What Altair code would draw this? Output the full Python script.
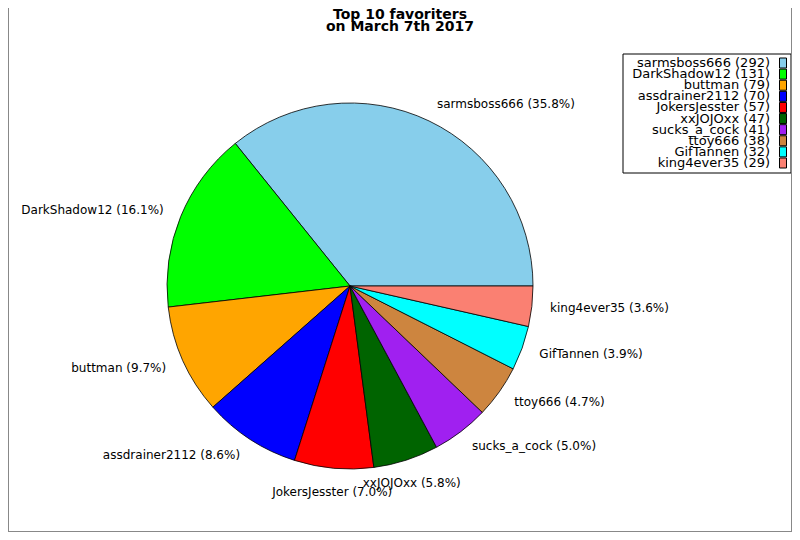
import math
import pandas as pd
import altair as alt

names = ["sarmsboss666", "DarkShadow12", "buttman", "assdrainer2112", "JokersJesster",
         "xxJOJOxx", "sucks_a_cock", "ttoy666", "GifTannen", "king4ever35"]
counts = [292, 131, 79, 70, 57, 47, 41, 38, 32, 29]
colors = ["#87ceeb", "#00ff00", "#ffa500", "#0000ff", "#ff0000",
          "#006400", "#a020f0", "#cd853f", "#00ffff", "#fa8072"]
title_lines = ["Top 10 favoriters", "on March 7th 2017"]

df = pd.DataFrame({"name": names, "count": counts, "rank": list(range(len(names)))})
one = pd.DataFrame({"k": [0]})

# pie centre and radius in plot coordinates (page has an 8px margin)
CX, CY, R = 342, 278, 183
W, H = 784, 524
FONT = "DejaVu Sans"

base = (
    alt.Chart(df)
    .transform_joinaggregate(total="sum(count)")
    .transform_window(cum="sum(count)", sort=[alt.SortField("rank")], frame=[None, 0])
    .transform_calculate(
        pct="format(datum.count / datum.total * 100, '.1f')",
        mid="(datum.cum - datum.count / 2) / datum.total",
    )
    .transform_calculate(
        side="abs(cos(2 * PI * datum.mid)) < 0.4 ? 'C' : (cos(2 * PI * datum.mid) > 0 ? 'R' : 'L')",
        label="datum.name + ' (' + datum.pct + '%)'",
        leg="datum.name + ' (' + datum.count + ')'",
    )
)

# start at 3 o'clock, run counter-clockwise
theta = alt.Theta(
    "count:Q",
    stack=True,
    scale=alt.Scale(range=[2.5 * math.pi, 0.5 * math.pi], nice=False, zero=True),
)
color = alt.Color("name:N", scale=alt.Scale(domain=names, range=colors), legend=None)

arcs = base.mark_arc(radius=R, stroke="black", strokeWidth=0.8).encode(
    x=alt.value(CX),
    y=alt.value(CY),
    theta=theta,
    color=color,
    order=alt.Order("rank:Q"),
)


def labels(side, align, baseline):
    return base.mark_text(
        radius=R * 1.1, align=align, baseline=baseline, fontSize=12, font=FONT, color="black"
    ).encode(
        x=alt.value(CX),
        y=alt.value(CY),
        theta=theta,
        detail="name:N",
        order=alt.Order("rank:Q"),
        text=alt.condition(f"datum.side == '{side}'", alt.Text("label:N"), alt.value("")),
    )


lab_r = labels("R", "left", "middle")
lab_l = labels("L", "right", "middle")
lab_c = labels("C", "center", "top")

box = alt.Chart(one).mark_rect(fill="white", stroke="black", strokeWidth=1).encode(
    x=alt.value(615), x2=alt.value(783), y=alt.value(46), y2=alt.value(165)
)

leg_y = alt.Y("name:N", sort=names, axis=None, scale=alt.Scale(range=[55, 155], padding=0))

leg_text = base.mark_text(align="right", baseline="middle", fontSize=13, font=FONT).encode(
    x=alt.value(762), y=leg_y, text="leg:N"
)

leg_swatch = base.mark_point(
    shape="M-0.7,-1H0.7V1H-0.7Z", size=100, filled=True, opacity=1,
    stroke="black", strokeWidth=1,
).encode(x=alt.value(775), y=leg_y, color=color)

title = alt.Chart(one).mark_text(
    fontSize=14, fontWeight="bold", font=FONT, align="center",
    baseline="alphabetic", lineHeight=12,
).encode(x=alt.value(392), y=alt.value(11), text=alt.value(title_lines))

# grey figure frame (left, right, bottom)
frame_style = dict(color="#888888", strokeWidth=1)
frame = [
    alt.Chart(one).mark_rule(**frame_style).encode(
        x=alt.value(0.5), y=alt.value(0), y2=alt.value(H)),
    alt.Chart(one).mark_rule(**frame_style).encode(
        x=alt.value(W - 0.5), y=alt.value(0), y2=alt.value(H)),
    alt.Chart(one).mark_rule(**frame_style).encode(
        x=alt.value(0), x2=alt.value(W), y=alt.value(H - 0.5)),
]

chart = (
    alt.layer(arcs, lab_r, lab_l, lab_c, box, leg_text, leg_swatch, title, *frame)
    .properties(width=W, height=H, autosize=alt.AutoSizeParams(type="none"), padding=0)
    .configure_view(strokeWidth=0)
)

chart.save("out.html", embed_options={"renderer": "svg", "actions": False})
